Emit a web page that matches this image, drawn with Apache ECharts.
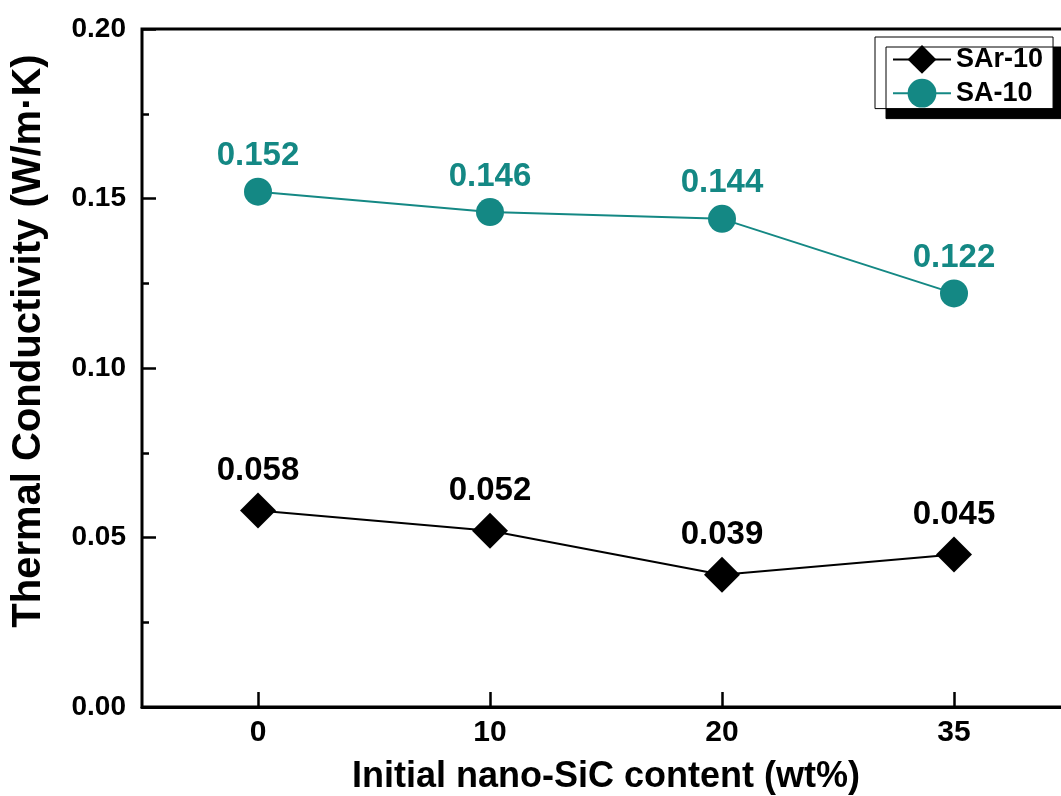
<!DOCTYPE html>
<html>
<head>
<meta charset="utf-8">
<script src="https://cdn.jsdelivr.net/npm/echarts@6/dist/echarts.min.js"></script>
<style>html,body{margin:0;padding:0;background:#fff;}#c{width:1061px;height:796px;}</style>
</head>
<body>
<div id="c"></div>
<script>
const categories = ['0', '10', '20', '35'];
const sar10 = [0.058, 0.052, 0.039, 0.045];
const sa10 = [0.152, 0.146, 0.144, 0.122];
const yTicks = [0, 0.05, 0.10, 0.15, 0.20];

const FONT = 'Liberation Sans';
const TEAL = '#148884';
const chart = echarts.init(document.getElementById('c'));
chart.setOption({
  animation: false,
  backgroundColor: '#fff',
  textStyle: { fontFamily: FONT },
  grid: { left: 142, top: 29, width: 928, height: 678, show: true, borderColor: '#000', borderWidth: 3,
    backgroundColor: 'transparent', outerBoundsMode: 'none', containLabel: false },
  legend: {
    left: 875, top: 37,
    orient: 'vertical',
    itemWidth: 58, itemHeight: 36, itemGap: 5,
    padding: [8, 10, 1, 17],
    backgroundColor: '#fff', borderColor: '#000', borderWidth: 1,
    shadowColor: '#000', shadowBlur: 0, shadowOffsetX: 11, shadowOffsetY: 10,
    textStyle: { fontFamily: FONT, fontWeight: 'bold', fontSize: 27, color: '#000' },
    data: ['SAr-10', 'SA-10']
  },
  xAxis: {
    type: 'category',
    data: categories,
    boundaryGap: true,
    name: 'Initial nano-SiC content (wt%)',
    nameLocation: 'middle', nameGap: 52,
    nameTextStyle: { fontFamily: FONT, fontWeight: 'bold', fontSize: 36, color: '#000' },
    axisLine: { lineStyle: { color: '#000', width: 3 } },
    axisTick: { show: true, inside: true, alignWithLabel: true, length: 15, lineStyle: { color: '#000', width: 2.5 } },
    axisLabel: { fontFamily: FONT, fontWeight: 'bold', fontSize: 30, color: '#000', margin: 11 },
    splitLine: { show: false }
  },
  yAxis: {
    type: 'value',
    min: 0, max: 0.2, interval: 0.05,
    name: 'Thermal Conductivity (W/m\u00B7K)',
    nameLocation: 'middle', nameGap: 93,
    nameTextStyle: { fontFamily: FONT, fontWeight: 'bold', fontSize: 40, color: '#000', padding: [0, 0, 0, 54] },
    axisLine: { lineStyle: { color: '#000', width: 3 } },
    axisTick: { show: true, inside: true, length: 14, lineStyle: { color: '#000', width: 2.5 } },
    minorTick: { show: true, splitNumber: 2, length: 7, lineStyle: { color: '#000', width: 2.5 } },
    axisLabel: { fontFamily: FONT, fontWeight: 'bold', fontSize: 28, color: '#000', margin: 16,
      formatter: v => { const t = yTicks.find(x => Math.abs(x - v) < 1e-9); return (t !== undefined ? t : v).toFixed(2); } },
    splitLine: { show: false }
  },
  series: [
    {
      name: 'SAr-10', type: 'line', data: sar10,
      symbol: 'diamond', symbolSize: 36,
      itemStyle: { color: '#000' },
      lineStyle: { color: '#000', width: 2 },
      label: { show: true, position: 'top', distance: 5, fontFamily: FONT, fontWeight: 'bold', fontSize: 33, color: '#000',
        formatter: p => p.value.toFixed(3) }
    },
    {
      name: 'SA-10', type: 'line', data: sa10,
      symbol: 'circle', symbolSize: 28,
      itemStyle: { color: TEAL },
      lineStyle: { color: TEAL, width: 2 },
      label: { show: true, position: 'top', distance: 5, fontFamily: FONT, fontWeight: 'bold', fontSize: 33, color: TEAL,
        formatter: p => p.value.toFixed(3) }
    }
  ]
});
</script>
</body>
</html>
